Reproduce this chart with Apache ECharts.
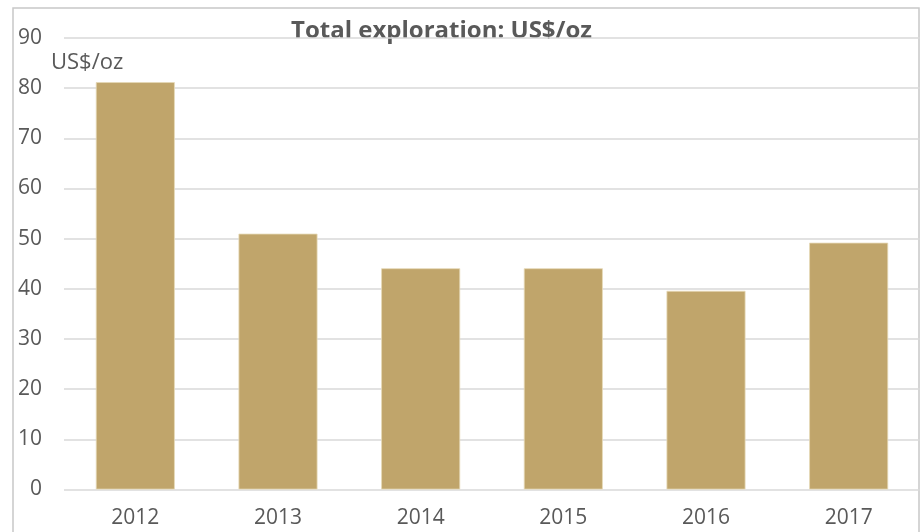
<!DOCTYPE html>
<html lang="en">
<head>
  <meta charset="UTF-8">
  <title>Total exploration</title>
  <style>
    html, body { margin: 0; padding: 0; background: #fff; }
    .main { width: 920px; height: 532px; }
  </style>
</head>
<body>
  <div class="main"></div>
  <script src="https://cdn.jsdelivr.net/npm/echarts@6/dist/echarts.min.js"></script>
  <script>
    const years = ['2012', '2013', '2014', '2015', '2016', '2017']
    const costPerOz = [81.2, 51.0, 44.1, 44.1, 39.6, 49.2]
    const yTicks = [0, 90, 10] // min, max, step

    const textColor = '#595959'
    const font = 'Open Sans'

    var myChart = echarts.init(document.querySelector('.main'))

    var option = {
      animation: false,
      textStyle: { fontFamily: font },
      graphic: [
        {
          type: 'rect',
          shape: { x: 13, y: 8, width: 906, height: 540 },
          style: { fill: 'none', stroke: '#c8c8c8', lineWidth: 1.5 }
        },
        {
          type: 'text',
          style: {
            x: 291, y: 31, verticalAlign: 'middle',
            text: 'Total exploration: US$/oz', fill: textColor, font: 'bold 24px "Open Sans"'
          }
        },
        {
          type: 'text',
          style: {
            x: 51, y: 63, verticalAlign: 'middle',
            text: 'US$/oz', fill: textColor, font: '22px "Open Sans"'
          }
        }
      ],
      grid: { left: 64, right: 0, top: 38, bottom: 42.5 },
      xAxis: {
        type: 'category',
        data: years,
        axisLine: { show: false },
        axisTick: { show: false },
        axisLabel: { color: textColor, fontSize: 21, margin: 18 }
      },
      yAxis: {
        type: 'value',
        min: yTicks[0],
        max: yTicks[1],
        interval: yTicks[2],
        axisLine: { show: false },
        axisTick: { show: false },
        axisLabel: { color: textColor, fontSize: 21, margin: 22 },
        splitLine: { lineStyle: { color: '#d9d9d9', width: 1.5 } }
      },
      series: [{
        type: 'bar',
        data: costPerOz,
        barWidth: 79,
        itemStyle: { color: '#c0a56b', borderColor: '#e6d9b8', borderWidth: 0.8 }
      }]
    }

    myChart.setOption(option)
  </script>
</body>
</html>
